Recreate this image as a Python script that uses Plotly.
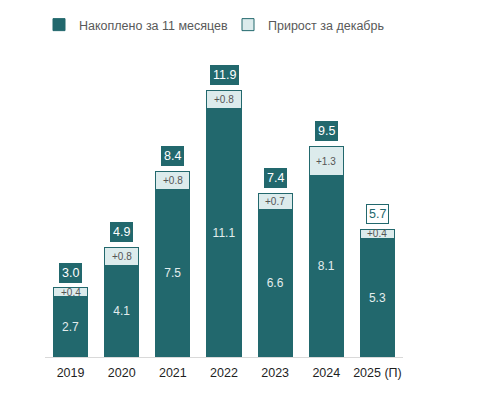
import plotly.graph_objects as go

years = ["2019", "2020", "2021", "2022", "2023", "2024", "2025 (П)"]
accum_11m = [2.7, 4.1, 7.5, 11.1, 6.6, 8.1, 5.3]
dec_growth = [0.4, 0.8, 0.8, 0.8, 0.7, 1.3, 0.4]
totals = [3.0, 4.9, 8.4, 11.9, 7.4, 9.5, 5.7]

TEAL = "#22686d"
LIGHT = "#dcebec"
FONT = "Liberation Sans, Arial, sans-serif"

W, H = 471, 386  # page body has an 8px margin

fig = go.Figure()
fig.add_trace(go.Bar(
    x=years, y=accum_11m, name="Накоплено за 11 месяцев",
    marker=dict(color=TEAL, line=dict(color=TEAL, width=1)),
    text=[f"{v:.1f}" for v in accum_11m], textposition="inside",
    insidetextanchor="middle", textangle=0,
    textfont=dict(color="#e3eded", size=12, family=FONT),
    width=0.67, legend="legend",
))
fig.add_trace(go.Bar(
    x=years, y=dec_growth, name="Прирост за декабрь",
    marker=dict(color=LIGHT, line=dict(color=TEAL, width=1)),
    width=0.67, legend="legend2",
))

annotations = []
for i, yr in enumerate(years):
    top = accum_11m[i] + dec_growth[i]
    annotations.append(dict(
        x=i, y=accum_11m[i] + dec_growth[i] / 2, text=f"+{dec_growth[i]:.1f}",
        showarrow=False, font=dict(size=10, color="#555555", family=FONT),
        yanchor="middle",
    ))
    last = i == len(years) - 1
    annotations.append(dict(
        x=i, y=top, text=f"{totals[i]:.1f}", showarrow=False,
        yanchor="bottom", yshift=5,
        font=dict(size=12.5, color=TEAL if last else "white", family=FONT),
        bgcolor="white" if last else TEAL,
        bordercolor=TEAL, borderwidth=1, borderpad=2,
    ))

leg_common = dict(orientation="h", xanchor="left", xref="container",
                  yanchor="middle", yref="container", y=1 - 17 / H,
                  font=dict(size=12.5, color="#595959", family=FONT))

fig.update_layout(
    width=W, height=H,
    barmode="stack", bargap=0.33,
    paper_bgcolor="white", plot_bgcolor="white",
    margin=dict(l=37, r=76, t=52, b=37, autoexpand=False),
    font=dict(family=FONT, size=12, color="#333333"),
    showlegend=True,
    legend=dict(x=31 / W, **leg_common),
    legend2=dict(x=220 / W, **leg_common),
    annotations=annotations,
)
fig.update_xaxes(type="category", showline=True, linecolor="#d9d9d9", linewidth=1,
                 ticks="", ticklabelstandoff=4,
                 tickfont=dict(size=12.5, color="#1f1f1f", family=FONT),
                 range=[-0.5, 6.5])
fig.update_yaxes(visible=False, range=[0, 13.26], showgrid=False)

fig.write_html("out.html")
